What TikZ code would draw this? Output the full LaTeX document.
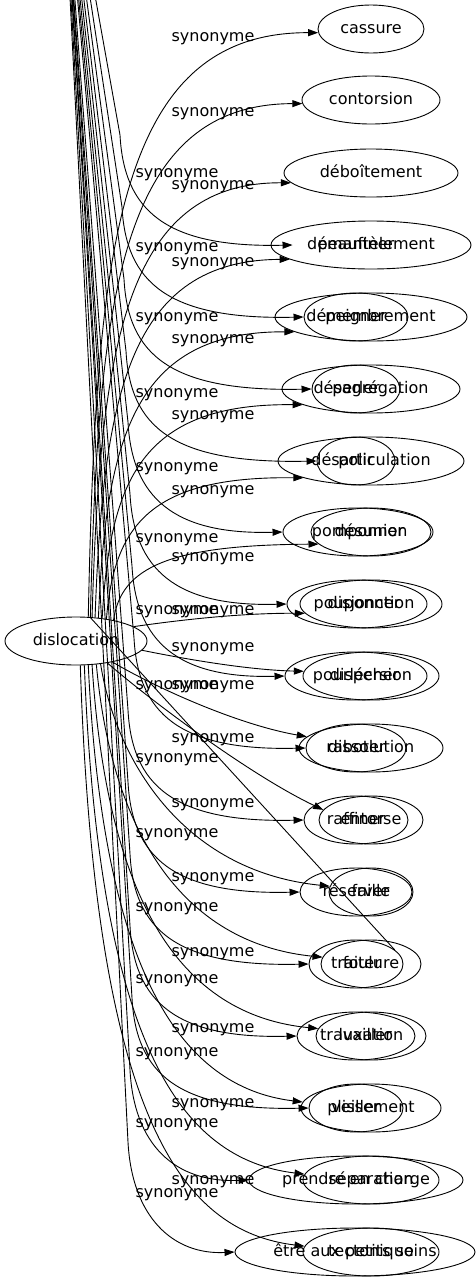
\documentclass[tikz,border=0pt]{standalone}
\usepackage{fontspec}
\setmainfont{DejaVu Sans}
\usetikzlibrary{shapes.geometric}
\usetikzlibrary{arrows.meta}
\begin{document}
\begin{tikzpicture}[x=1pt,y=-1pt,>={Triangle[length=10pt,width=7pt]},line width=0.9pt,font=\fontsize{16}{19}\selectfont]
 \tikzset{
 	word node/.style={ellipse,draw,inner sep=0pt,minimum height=48pt,text height=11.5pt,text depth=3.5pt},
 	bare node/.style={ellipse,inner sep=0pt,minimum height=48pt,text height=11.5pt,text depth=3.5pt},
 	syn label/.style={inner sep=0pt,text height=11.5pt,text depth=3.5pt}
 }
 \useasboundingbox (0,0) rectangle (476,1283);
 \clip (0,0) rectangle (476,1283);

       \node[word node,minimum width=142pt] (dis) at (76,641) {dislocation};
       \coordinate (soigner) at (60,-200);

       \node[word node,minimum width=106pt] (cassure) at (371,29) {cassure};
       \node[word node,minimum width=138pt] (contorsion) at (371,100) {contorsion};
       \node[word node,minimum width=174pt] (deboitement) at (371,173) {déboîtement};
       \node[word node,minimum width=200pt] (demantelement) at (371,245) {démantèlement};
       \node[word node,minimum width=192pt] (demembrement) at (371,317) {démembrement};
       \node[word node,minimum width=178pt] (desagregation) at (371,389) {désagrégation};
       \node[word node,minimum width=186pt] (desarticulation) at (371,461) {désarticulation};
       \node[word node,minimum width=120pt] (desunion) at (371,532) {désunion};
       \node[word node,minimum width=142pt] (disjonction) at (371,604) {disjonction};
       \node[word node,minimum width=136pt] (dispersion) at (371,676) {dispersion};
       \node[word node,minimum width=144pt] (dissolution) at (371,748) {dissolution};
       \node[word node,minimum width=104pt] (entorse) at (371,820) {entorse};
       \node[word node,minimum width=84pt] (faille) at (371,892) {faille};
       \node[word node,minimum width=100pt] (foulure) at (371,964) {foulure};
       \node[word node,minimum width=110pt] (luxation) at (371,1036) {luxation};
       \node[word node,minimum width=140pt] (plissement) at (371,1108) {plissement};
       \node[word node,minimum width=136pt] (separation) at (371,1180) {séparation};
       \node[word node,minimum width=136pt] (tectonique) at (371,1252) {tectonique};

       \node[bare node,minimum width=126pt] (peaufiner) at (356,245) {peaufiner};
       \node[word node,minimum width=104pt] (peigner) at (356,317) {peigner};
       \node[word node,minimum width=88pt] (perler) at (356,389) {perler};
       \node[word node,minimum width=78pt] (polir) at (356,461) {polir};
       \node[word node,minimum width=150pt] (pomponner) at (358,532) {pomponner};
       \node[word node,minimum width=140pt] (pouponner) at (357,604) {pouponner};
       \node[word node,minimum width=142pt] (pourlecher) at (356,676) {pourlécher};
       \node[word node,minimum width=100pt] (raboter) at (356,748) {raboter};
       \node[word node,minimum width=104pt] (raffiner) at (356,820) {raffiner};
       \node[word node,minimum width=112pt] (reserver) at (356,892) {réserver};
       \node[word node,minimum width=94pt] (traiter) at (356,964) {traiter};
       \node[word node,minimum width=118pt] (travailler) at (356,1036) {travailler};
       \node[word node,minimum width=94pt] (veiller) at (356,1108) {veiller};
       \node[word node,minimum width=214pt] (prendre) at (356,1180) {prendre en charge};
       \node[word node,minimum width=240pt] (petitssoins) at (355,1252) {être aux petits soins};

     % dislocation, upwards
     \draw[->] (dis.63) .. controls (96,254) and (115,32) .. (cassure.184) node[syn label] at (213,37) {synonyme};
     \draw[->] (dis.59) .. controls (98,298) and (120,104) .. (contorsion.183) node[syn label] at (213,112) {synonyme};
     \draw[->] (dis.56) .. controls (100,347) and (125,182) .. (deboitement.187) node[syn label] at (213,185) {synonyme};
     \draw[->] (dis.51) .. controls (103,394) and (130,260) .. (demantelement.190) node[syn label] at (213,262) {synonyme};
     \draw[->] (dis.46) .. controls (106,437) and (135,331) .. (demembrement.191) node[syn label] at (213,339) {synonyme};
     \draw[->] (dis.41) .. controls (110,482) and (140,403) .. (desagregation.193) node[syn label] at (213,415) {synonyme};
     \draw[->] (dis.36) .. controls (114,526) and (150,476) .. (desarticulation.194) node[syn label] at (213,490) {synonyme};
     \draw[->] (dis.29) .. controls (121,567) and (170,545) .. (desunion.193) node[syn label] at (213,557) {synonyme};
     \draw[->] (dis.14) .. controls (180,620) and (240,613) .. (disjonction.188) node[syn label] at (213,610) {synonyme};

     % dislocation, downwards
     \draw[->] (dis.-8) .. controls (190,660) and (250,670) .. (dispersion.176) node[syn label] at (213,647) {synonyme};
     \draw[->] (dis.-30) .. controls (160,690) and (240,725) .. (dissolution.170) node[syn label] at (213,685) {synonyme};
     \draw[->] (dis.-35) .. controls (150,700) and (250,775) .. (entorse.168) node[syn label] at (213,738) {synonyme};
     \draw[->] (dis.-43) .. controls (115,756) and (180,871) .. (faille.172) node[syn label] at (213,803) {synonyme};
     \draw[->] (dis.-49) .. controls (111,828) and (180,943) .. (foulure.172) node[syn label] at (213,877) {synonyme};
     \draw[->] (dis.-56) .. controls (107,900) and (180,1015) .. (luxation.172) node[syn label] at (213,952) {synonyme};
     \draw[->] (dis.-63) .. controls (103,972) and (180,1087) .. (plissement.175) node[syn label] at (213,1028) {synonyme};
     \draw[->] (dis.-71) .. controls (99,1044) and (180,1159) .. (separation.175) node[syn label] at (213,1103) {synonyme};
     \draw[->] (dis.-80) .. controls (95,1116) and (180,1231) .. (tectonique.175) node[syn label] at (213,1180) {synonyme};
     \draw (dis.60) -- (traiter.20);

     % from above the page
     \draw[->] (soigner) -- (120,135) .. controls (124,210) and (165,248) .. (peaufiner.west) node[syn label] at (177,173) {synonyme};
     \draw[->] (soigner) -- (122,207) .. controls (126,282) and (167,320) .. (peigner.west) node[syn label] at (177,247) {synonyme};
     \draw[->] (soigner) -- (124,279) .. controls (128,354) and (169,392) .. (perler.west) node[syn label] at (177,317) {synonyme};
     \draw[->] (soigner) -- (126,351) .. controls (130,426) and (171,464) .. (polir.west) node[syn label] at (177,393) {synonyme};
     \draw[->] (soigner) -- (128,422) .. controls (132,497) and (173,535) .. (pomponner.west) node[syn label] at (177,467) {synonyme};
     \draw[->] (soigner) -- (130,494) .. controls (134,569) and (175,607) .. (pouponner.west) node[syn label] at (177,538) {synonyme};
     \draw[->] (soigner) -- (132,566) .. controls (136,641) and (177,679) .. (pourlecher.west) node[syn label] at (177,610) {synonyme};
     \draw[->] (soigner) -- (134,638) .. controls (138,713) and (179,751) .. (raboter.west) node[syn label] at (177,685) {synonyme};
     \draw[->] (soigner) -- (128,710) .. controls (132,785) and (173,823) .. (raffiner.west) node[syn label] at (177,758) {synonyme};
     \draw[->] (soigner) -- (128,782) .. controls (132,857) and (173,895) .. (reserver.west) node[syn label] at (177,833) {synonyme};
     \draw[->] (soigner) -- (130,854) .. controls (134,929) and (175,967) .. (traiter.west) node[syn label] at (177,907) {synonyme};
     \draw[->] (soigner) -- (130,926) .. controls (134,1001) and (175,1039) .. (travailler.west) node[syn label] at (177,979) {synonyme};
     \draw[->] (soigner) -- (132,998) .. controls (136,1073) and (177,1111) .. (veiller.west) node[syn label] at (177,1052) {synonyme};
     \draw[->] (soigner) -- (130,1070) .. controls (134,1145) and (175,1183) .. (prendre.west) node[syn label] at (177,1123) {synonyme};
     \draw[->] (soigner) -- (128,1142) .. controls (132,1217) and (173,1255) .. (petitssoins.west) node[syn label] at (177,1193) {synonyme};
 \end{tikzpicture}
\end{document}
